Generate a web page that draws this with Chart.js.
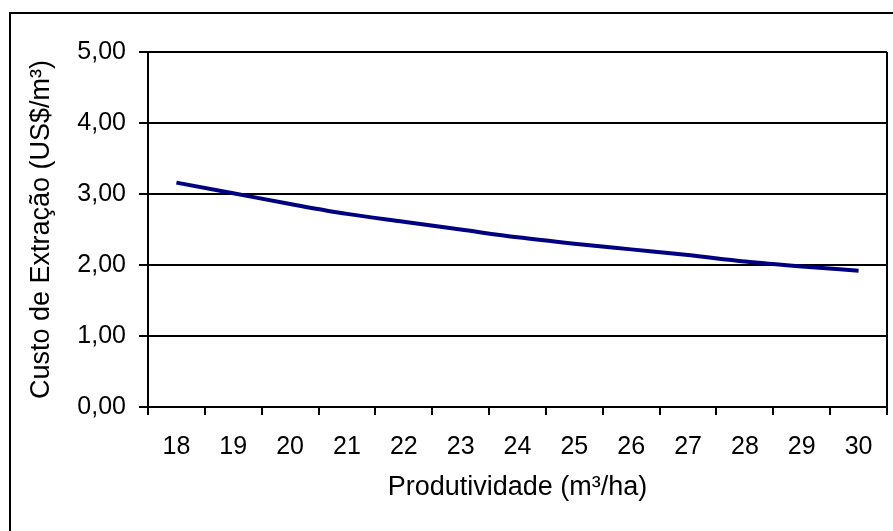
<!DOCTYPE html>
<html>
<head>
<meta charset="utf-8">
<script src="https://cdn.jsdelivr.net/npm/chart.js@4"></script>
<style>
  html, body { margin: 0; padding: 0; background: #fff; }
  #wrap { width: 893px; height: 531px; position: relative; }
</style>
</head>
<body>
<div id="wrap"><canvas id="chart"></canvas></div>
<script>
// data
const productivity = ['18', '19', '20', '21', '22', '23', '24', '25', '26', '27', '28', '29', '30'];
const extractionCost = [3.16, 3.01, 2.86, 2.72, 2.61, 2.50, 2.39, 2.30, 2.22, 2.14, 2.05, 1.98, 1.92];
const yTicks = [0, 1, 2, 3, 4, 5];

const fontFamily = '"Liberation Sans", Arial, sans-serif';

// outer frame (left/top) and right edge of the plot area
const frame = {
    id: 'frame',
    beforeDraw(chart) {
        const ctx = chart.ctx;
        ctx.save();
        ctx.fillStyle = '#fff';
        ctx.fillRect(0, 0, chart.width, chart.height);
        ctx.strokeStyle = '#000';
        ctx.lineWidth = 2;
        ctx.beginPath();
        ctx.moveTo(10, chart.height);
        ctx.lineTo(10, 13);
        ctx.lineTo(chart.width, 13);
        ctx.stroke();
        ctx.restore();
    },
    afterDatasetsDraw(chart) {
        const ctx = chart.ctx;
        const a = chart.chartArea;
        ctx.save();
        ctx.strokeStyle = '#000';
        ctx.lineWidth = 2;
        ctx.beginPath();
        ctx.moveTo(a.right, a.top);
        ctx.lineTo(a.right, a.bottom + 8);
        ctx.stroke();
        ctx.restore();
    }
};

const ctx = document.getElementById('chart').getContext('2d');
new Chart(ctx, {
    type: 'line',
    data: {
        labels: productivity,
        datasets: [{
            data: extractionCost,
            borderColor: '#000080',
            borderWidth: 4,
            pointRadius: 0,
            cubicInterpolationMode: 'monotone',
            fill: false
        }]
    },
    options: {
        responsive: true,
        maintainAspectRatio: false,
        animation: false,
        layout: { padding: { top: 52, right: 6, left: 0, bottom: 0 } },
        plugins: {
            legend: { display: false },
            tooltip: { enabled: false }
        },
        scales: {
            x: {
                offset: true,
                grid: {
                    offset: true,
                    drawOnChartArea: false,
                    color: '#000',
                    lineWidth: 2,
                    tickLength: 8,
                    tickWidth: 2
                },
                border: { color: '#000', width: 2 },
                ticks: {
                    color: '#000',
                    padding: 17,
                    maxRotation: 0,
                    font: { family: fontFamily, size: 25 }
                },
                title: {
                    display: true,
                    text: 'Produtividade (m³/ha)',
                    color: '#000',
                    font: { family: fontFamily, size: 27 },
                    padding: { top: 6, bottom: 27 }
                },
                afterFit(scale) { scale.height = 124; }
            },
            y: {
                min: 0,
                max: 5,
                afterBuildTicks(scale) {
                    scale.ticks = yTicks.map(v => ({ value: v }));
                },
                grid: {
                    color: '#000',
                    lineWidth: 2,
                    tickLength: 9
                },
                border: { color: '#000', width: 2 },
                ticks: {
                    color: '#000',
                    padding: 13,
                    font: { family: fontFamily, size: 25 },
                    callback: v => v.toFixed(2).replace('.', ',')
                },
                title: {
                    display: true,
                    text: 'Custo de Extração (US$/m³)',
                    color: '#000',
                    font: { family: fontFamily, size: 27 },
                    padding: { top: 25, bottom: 8 }
                },
                afterFit(scale) { scale.width = 148; }
            }
        }
    },
    plugins: [frame]
});
</script>
</body>
</html>
